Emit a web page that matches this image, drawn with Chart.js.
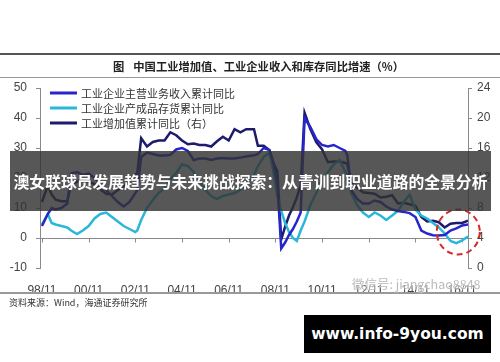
<!DOCTYPE html>
<html><head><meta charset="utf-8">
<script src="https://cdn.jsdelivr.net/npm/chart.js@4.4.0/dist/chart.umd.min.js"></script>
<style>
html,body{margin:0;padding:0;background:#fff;}
#wrap{position:relative;width:500px;height:362px;overflow:hidden;font-family:"Noto Sans CJK SC","Noto Sans",sans-serif;}
#c{position:absolute;left:0;top:0;}
.rule{position:absolute;left:0;width:500px;}
#title{position:absolute;left:113px;top:58px;font-size:11.3px;line-height:16px;font-weight:bold;color:#222;white-space:nowrap;}
#title span{margin-right:9px;}
#source{position:absolute;left:9px;top:296px;font-size:9px;line-height:14px;color:#333;white-space:nowrap;}
#wechat{position:absolute;left:352px;top:276px;font-size:12.5px;line-height:16px;color:rgba(130,130,130,0.55);text-shadow:0 0 2px #fff,0 0 2px #fff;white-space:nowrap;}
#banner{position:absolute;left:10px;top:151px;width:481px;height:60px;background:rgba(50,50,50,0.82);color:#fff;font-weight:bold;font-size:15.8px;line-height:62px;text-align:center;white-space:nowrap;}
#brand{position:absolute;left:304px;top:315px;width:187px;height:38px;background:#000;color:#fff;font-family:"DejaVu Sans",sans-serif;font-weight:bold;font-size:15.5px;line-height:38px;text-align:center;white-space:nowrap;}
</style></head><body>
<div id="wrap">
  <canvas id="c" width="500" height="362"></canvas>
  <div class="rule" style="top:53px;height:2px;background:#555"></div>
  <div id="title"><span>图</span>中国工业增加值、工业企业收入和库存同比增速（%）</div>
  <div class="rule" style="top:77px;height:1px;background:#999"></div>
  <div class="rule" style="top:292px;height:2px;background:#999"></div>
  <div id="source">资料来源：Wind，海通证券研究所</div>
  <div id="wechat">微信号: jiangchao8848</div>
  <div id="banner">澳女联球员发展趋势与未来挑战探索：从青训到职业道路的全景分析</div>
  <div id="brand">www.info-9you.com</div>
</div>
<script>
// ---- data ----
const seriesNames = ['工业企业主营业务收入累计同比', '工业企业产成品存货累计同比', '工业增加值累计同比（右）'];
const dates = ['98/11','99/02','99/04','99/06','99/09','99/12','00/02','00/05','00/08','00/11','01/02','01/05','01/08','01/11','02/02','02/05','02/08','02/11','02/12','03/02','03/05','03/08','03/11','04/02','04/05','04/08','04/11','05/02','05/05','05/08','05/11','06/02','06/05','06/08','06/11','07/02','07/05','07/08','07/11','07/12','08/02','08/05','08/08','08/10','08/12','09/02','09/04','09/06','09/08','09/10','09/12','10/02','10/05','10/08','10/11','11/02','11/05','11/08','11/11','11/12','12/02','12/05','12/08','12/11','13/02','13/05','13/08','13/11','14/02','14/05','14/08','14/11','15/02','15/05','15/08','15/11','16/02','16/05','16/08','16/11','17/02'];
const revenue = [4,8,10,9.5,10,11.5,21.5,22,21,21.5,20,18,16,14,12,10.5,12,15,16,27,28.5,28,27.5,27.5,27.7,29.5,30,29,26,26.5,26.5,26,26.5,26.7,26.5,26.5,26.8,27.2,27.5,27.5,28,30,29.3,25,18,-3.5,-1.5,1,3,5.5,8.5,40,37,33,31,30.5,31,30,29,27.5,16,13,11.5,11.5,12.5,12,10.5,9.5,9,8.7,8.3,7,2.5,1.5,0.9,0.8,1,2.5,3.2,4.2,4.5];
const inventory = [4.5,8,5,4.5,4,3.5,2.5,1.3,2.5,4,6.5,8,8.5,7,5.5,4,3,2,2.5,6,10,12.7,15,16.5,19.5,21.7,24.5,24,22,19,16,14,13,14,14.5,15,16,18,20,21,24,27,28.5,22,14,9,5,2,0,-1,2.5,5.5,11,15,19.5,22,24.5,26,22,21,15,11,8.5,7,8.5,7.5,6,7.5,9,12,14.5,9.5,7.5,6.5,5,3.5,1.5,-1,-1.7,-0.8,0.5];
const valueAdded = [8.8,11,9.8,9.1,8.9,8.9,11.2,11.5,11.8,11.5,11.2,10.5,9.9,9.8,10.4,10.8,11.8,12.5,12.6,17.3,16.2,16.8,17.0,17.0,18.1,17.7,17.0,16.5,16.6,16.4,16.4,16.2,16.9,17.5,17.0,18.5,18.1,18.5,18.5,18.5,16.3,16.3,15.7,14.0,12.9,3.8,5.5,7.0,8.1,9.4,11.0,20.7,18.5,16.8,15.8,14.1,14.2,14.2,14.0,13.9,11.4,10.7,10.1,10.0,9.9,9.4,9.5,9.7,8.6,8.7,8.5,8.3,6.8,6.2,6.3,6.1,5.4,5.9,6.0,6.0,6.3];
const xTickLabels = ['98/11','00/11','02/11','04/11','06/11','08/11','10/11','12/11','14/11','16/11'];
const xRange = ['98/10','17/02'];
const leftRange = [-10, 50, 10];
const rightRange = [0, 24, 4];
const highlight = {date: '16/09', value: 2};

// ---- helpers ----
const toMonth = s => { const p = s.split('/').map(Number); return (p[0] < 50 ? 2000 + p[0] : 1900 + p[0]) * 12 + (p[1] - 1); };
const pts = vals => dates.map((d, i) => ({x: toMonth(d), y: vals[i]}));
const labelOf = {}; xTickLabels.forEach(l => labelOf[toMonth(l)] = l);

const AXIS = '#8a8a8a';
const tickFont = {family: '"Liberation Sans", Arial, sans-serif', size: 12};

const zeroAxis = {
  id: 'zeroAxis',
  beforeDatasetsDraw(chart) {
    const {ctx, chartArea, scales} = chart;
    const y0 = Math.round(scales.y.getPixelForValue(0)) + 0.5;
    ctx.save();
    ctx.strokeStyle = AXIS; ctx.lineWidth = 1;
    ctx.beginPath();
    ctx.moveTo(chartArea.left, y0); ctx.lineTo(chartArea.right, y0);
    scales.x.ticks.forEach(t => {
      const x = Math.round(scales.x.getPixelForValue(t.value)) + 0.5;
      ctx.moveTo(x, y0); ctx.lineTo(x, y0 + 4);
    });
    ctx.stroke();
    ctx.restore();
  }
};

const innerLegend = {
  id: 'innerLegend',
  afterDraw(chart) {
    const {ctx, chartArea} = chart;
    ctx.save();
    ctx.font = '11px "Noto Sans CJK SC", sans-serif';
    ctx.textBaseline = 'middle';
    chart.data.datasets.forEach((ds, i) => {
      const y = chartArea.top + 5 + i * 15;
      ctx.strokeStyle = ds.borderColor; ctx.lineWidth = 3;
      ctx.beginPath(); ctx.moveTo(chartArea.left + 10, y); ctx.lineTo(chartArea.left + 37, y); ctx.stroke();
      ctx.fillStyle = '#333';
      ctx.fillText(ds.label, chartArea.left + 41, y + 0.5);
    });
    ctx.restore();
  }
};

const circleMark = {
  id: 'circleMark',
  afterDraw(chart) {
    const {ctx, scales} = chart;
    const cx = scales.x.getPixelForValue(toMonth(highlight.date));
    const cy = scales.y.getPixelForValue(highlight.value);
    ctx.save();
    ctx.strokeStyle = '#d8282c'; ctx.lineWidth = 2; ctx.setLineDash([6, 4]);
    ctx.beginPath(); ctx.ellipse(cx, cy, 21.5, 22.5, 0, 0, Math.PI * 2); ctx.stroke();
    ctx.restore();
  }
};

new Chart(document.getElementById('c'), {
  type: 'line',
  data: {
    datasets: [
      {label: seriesNames[0], data: pts(revenue), borderColor: '#2626cc', yAxisID: 'y'},
      {label: seriesNames[1], data: pts(inventory), borderColor: '#2bb7d9', yAxisID: 'y'},
      {label: seriesNames[2], data: pts(valueAdded), borderColor: '#1d1b6c', yAxisID: 'y1'}
    ]
  },
  options: {
    responsive: false,
    animation: false,
    devicePixelRatio: 1,
    layout: {padding: {top: 88, left: 0, right: 0, bottom: 0}},
    elements: {
      line: {borderWidth: 2.5, tension: 0, fill: false},
      point: {radius: 0, hoverRadius: 0}
    },
    plugins: {legend: {display: false}, tooltip: {enabled: false}, title: {display: false}},
    scales: {
      x: {
        type: 'linear',
        min: toMonth(xRange[0]), max: toMonth(xRange[1]),
        afterBuildTicks: s => { s.ticks = xTickLabels.map(l => ({value: toMonth(l)})); },
        ticks: {callback: v => labelOf[v] || '', font: tickFont, color: '#444', padding: 7, maxRotation: 0, autoSkip: false},
        grid: {display: false},
        border: {display: false},
        afterFit: s => { s.height = 94; }
      },
      y: {
        position: 'left',
        min: leftRange[0], max: leftRange[1],
        ticks: {stepSize: leftRange[2], font: tickFont, color: '#444', padding: 9},
        grid: {drawOnChartArea: false, drawTicks: true, tickLength: 4, color: AXIS},
        border: {display: true, color: AXIS, width: 1},
        afterFit: s => { s.width = 40; }
      },
      y1: {
        position: 'right',
        min: rightRange[0], max: rightRange[1],
        ticks: {stepSize: rightRange[2], font: tickFont, color: '#444', padding: 5},
        grid: {drawOnChartArea: false, drawTicks: true, tickLength: 4, color: AXIS},
        border: {display: true, color: AXIS, width: 1},
        afterFit: s => { s.width = 32; }
      }
    }
  },
  plugins: [zeroAxis, innerLegend, circleMark]
});
</script>
</body></html>
